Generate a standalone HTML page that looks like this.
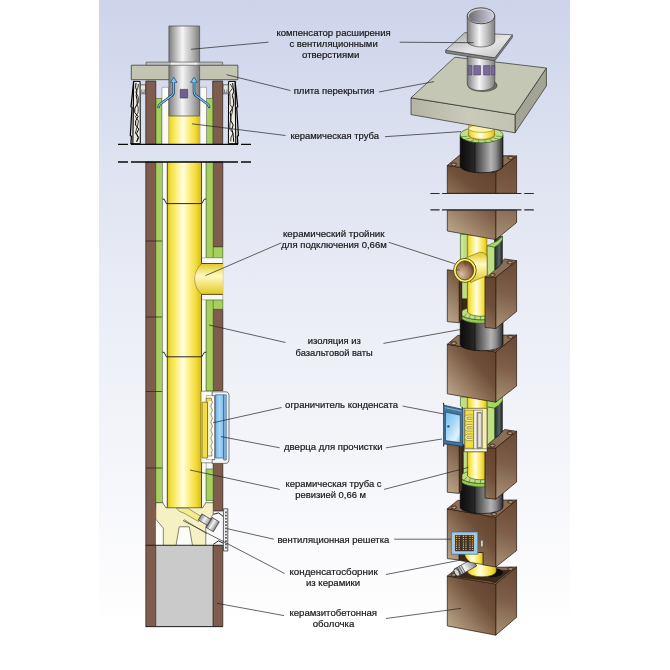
<!DOCTYPE html>
<html lang="ru"><head><meta charset="utf-8"><title>Керамический дымоход</title>
<style>
html,body{margin:0;padding:0;background:#fff;}
svg{display:block;will-change:transform;}
text{font-family:"Liberation Sans","DejaVu Sans",sans-serif;font-size:9.6px;fill:#141414;text-anchor:start;stroke:#141414;stroke-width:0.2px;}
.ld{stroke:#222;stroke-width:0.7;fill:none;}
.ol{stroke:#3a2a20;stroke-width:0.6;}
</style></head><body>
<svg width="670" height="670" viewBox="0 0 670 670">
<defs>
<linearGradient id="bgv" x1="0" y1="0" x2="0" y2="1">
<stop offset="0" stop-color="#cdd4ea"/><stop offset="0.286" stop-color="#e0e4f2"/><stop offset="0.476" stop-color="#eaedf6"/><stop offset="0.714" stop-color="#f4f5fa"/><stop offset="1" stop-color="#ffffff"/>
</linearGradient>
<linearGradient id="yel" x1="0" y1="0" x2="1" y2="0">
<stop offset="0" stop-color="#dcc228"/><stop offset="0.1" stop-color="#f2e03a"/><stop offset="0.3" stop-color="#fdf28e"/><stop offset="0.46" stop-color="#fffde2"/><stop offset="0.62" stop-color="#fdf28a"/><stop offset="0.85" stop-color="#f1da38"/><stop offset="1" stop-color="#d4b81a"/>
</linearGradient>
<linearGradient id="yelv" x1="0" y1="0" x2="0" y2="1">
<stop offset="0" stop-color="#e0c624"/><stop offset="0.4" stop-color="#fffbc0"/><stop offset="1" stop-color="#e3c820"/>
</linearGradient>
<linearGradient id="met" x1="0" y1="0" x2="1" y2="0">
<stop offset="0" stop-color="#7c7c7c"/><stop offset="0.16" stop-color="#ababab"/><stop offset="0.44" stop-color="#f5f5f5"/><stop offset="0.76" stop-color="#b6b6b6"/><stop offset="1" stop-color="#7e7e7e"/>
</linearGradient>
<linearGradient id="blu" x1="0" y1="0" x2="1" y2="0">
<stop offset="0" stop-color="#6fb4ea"/><stop offset="0.5" stop-color="#a9d6f7"/><stop offset="1" stop-color="#7dbdee"/>
</linearGradient>
<linearGradient id="blk" x1="0" y1="0" x2="1" y2="0">
<stop offset="0" stop-color="#0c0c0c"/><stop offset="0.2" stop-color="#1b1b1b"/><stop offset="0.34" stop-color="#2a2a2a"/><stop offset="0.35" stop-color="#3a3a3a"/><stop offset="0.52" stop-color="#707070"/><stop offset="0.72" stop-color="#b4b4b4"/><stop offset="0.84" stop-color="#8a8a8a"/><stop offset="1" stop-color="#2a2a2a"/>
</linearGradient>
<linearGradient id="bfr" x1="1" y1="0" x2="0" y2="1">
<stop offset="0" stop-color="#6a4833"/><stop offset="0.45" stop-color="#7d5a43"/><stop offset="1" stop-color="#a88d6e"/>
</linearGradient>
<linearGradient id="bsd" x1="0" y1="0" x2="0" y2="1">
<stop offset="0" stop-color="#75533e"/><stop offset="1" stop-color="#8e7058"/>
</linearGradient>
<linearGradient id="slabf" x1="0" y1="0" x2="1" y2="0">
<stop offset="0" stop-color="#b3b4a3"/><stop offset="0.55" stop-color="#c9cab9"/><stop offset="1" stop-color="#c2c3b2"/>
</linearGradient>
</defs>
<rect width="670" height="670" fill="#fff"/>
<rect x="99" y="0" width="471" height="630" fill="url(#bgv)"/>

<g id="left" stroke-linejoin="round">
<polygon points="133.6,81.4 131.0,106.8 132.0,107.4 130.3,135.6 131.4,136.2 130.9,143.7 133.4,143.7" fill="#dcdcdc" stroke="#000" stroke-width="1.2"/>
<polygon points="133.7,81.4 140.1,81.4 140.3,143.7 132.9,143.7" fill="#eeece0" stroke="#000" stroke-width="1"/>
<path d="M136.0 83 L135.6 87.2 L136.9 91.4 L136.2 95.6 L137.1 99.8 L137.2 104.0 L134.9 108.2 L134.7 112.4 L138.1 116.6 L135.7 120.8 L135.6 125.0 L138.8 129.2 L136.6 133.4 L138.1 137.6 L136.6 141.8" fill="none" stroke="#000" stroke-width="1"/>
<path d="M138.4 84 L137.9 88.1 L135.8 92.2 L137.9 96.3 L138.8 100.4 L137.4 104.5 L138.3 108.6 L138.0 112.7 L135.5 116.8 L138.4 120.9 L137.7 125.0 L136.5 129.1 L135.3 133.2 L138.8 137.3 L137.2 141.4" fill="none" stroke="#111" stroke-width="0.8"/>
<rect x="140.4" y="84.8" width="5.3" height="9" fill="#e4e4e4" stroke="#2a2a2a" stroke-width="0.6"/>
<path d="M141.8 89.5 v3.2 h2.4 v-3.2" fill="none" stroke="#333" stroke-width="0.6"/>
<polygon points="235.1,81.4 237.7,106.8 236.7,107.4 238.4,135.6 237.3,136.2 237.8,143.7 235.3,143.7" fill="#dcdcdc" stroke="#000" stroke-width="1.2"/>
<polygon points="235.0,81.4 228.6,81.4 228.4,143.7 235.8,143.7" fill="#eeece0" stroke="#000" stroke-width="1"/>
<path d="M232.7 83 L233.1 87.2 L233.7 91.4 L232.4 95.6 L233.4 99.8 L233.8 104.0 L232.4 108.2 L230.2 112.4 L230.7 116.6 L230.9 120.8 L233.2 125.0 L231.8 129.2 L232.9 133.4 L233.4 137.6 L233.7 141.8" fill="none" stroke="#000" stroke-width="1"/>
<path d="M230.3 84 L232.6 88.1 L229.6 92.2 L230.0 96.3 L230.1 100.4 L230.1 104.5 L232.7 108.6 L232.2 112.7 L230.9 116.8 L230.4 120.9 L229.9 125.0 L229.8 129.1 L233.1 133.2 L231.0 137.3 L230.7 141.4" fill="none" stroke="#111" stroke-width="0.8"/>
<rect x="223.0" y="84.8" width="5.3" height="9" fill="#e4e4e4" stroke="#2a2a2a" stroke-width="0.6"/>
<path d="M226.9 89.5 v3.2 h-2.4 v-3.2" fill="none" stroke="#333" stroke-width="0.6"/>
<rect x="145.8" y="81" width="10" height="63.3" fill="#7f5d4e" stroke="#2a1e18" stroke-width="0.7"/>
<rect x="212.7" y="81" width="10" height="63.3" fill="#7f5d4e" stroke="#2a1e18" stroke-width="0.7"/>
<rect x="156" y="98.5" width="6" height="45.8" fill="#a7cf5f" stroke="#3c6417" stroke-width="0.6"/>
<rect x="206.5" y="98.5" width="6.3" height="45.8" fill="#a7cf5f" stroke="#3c6417" stroke-width="0.6"/>
<rect x="162" y="87.3" width="6.6" height="57" fill="#fbfbf3" stroke="#555" stroke-width="0.4"/>
<rect x="200" y="87.3" width="6.5" height="57" fill="#fbfbf3" stroke="#555" stroke-width="0.4"/>
<rect x="168.6" y="110" width="31.4" height="34.3" fill="url(#yel)"/>
<rect x="131.3" y="65.2" width="106.6" height="14.5" fill="#c3c4b2" stroke="#3c3c38" stroke-width="0.8"/>
<rect x="168.9" y="26" width="30.7" height="90" fill="url(#met)" stroke="#4a4a4a" stroke-width="0.7"/>
<rect x="146.1" y="62.1" width="76.6" height="3.1" fill="#bdbdbd" stroke="#555" stroke-width="0.7"/>
<rect x="171" y="62.6" width="26.5" height="2.1" fill="#f2f2f2" opacity="0.9"/>
<rect x="180.2" y="89.4" width="7.5" height="8.6" fill="#6d5f8e" stroke="#3f345c" stroke-width="0.6"/>
<path d="M173.7 81 V91.5 Q173.7 94.5 171.5 95.8 L161.7 103 Q159.1 104.3 158.5 107" fill="none" stroke="#173f66" stroke-width="2.5" stroke-linecap="round"/>
<polygon points="170.3,82.4 173.7,77.2 177.1,82.4" fill="#7cc4ea" stroke="#1d4e7a" stroke-width="0.7"/>
<path d="M173.7 81 V91.5 Q173.7 94.5 171.5 95.8 L161.7 103 Q159.1 104.3 158.5 107" fill="none" stroke="#86cbee" stroke-width="1.1" stroke-linecap="round"/>
<path d="M194.0 81 V91.5 Q194.0 94.5 196.2 95.8 L206.0 103 Q208.6 104.3 209.2 107" fill="none" stroke="#173f66" stroke-width="2.5" stroke-linecap="round"/>
<polygon points="190.6,82.4 194.0,77.2 197.4,82.4" fill="#7cc4ea" stroke="#1d4e7a" stroke-width="0.7"/>
<path d="M194.0 81 V91.5 Q194.0 94.5 196.2 95.8 L206.0 103 Q208.6 104.3 209.2 107" fill="none" stroke="#86cbee" stroke-width="1.1" stroke-linecap="round"/>
<rect x="145.8" y="162" width="10" height="464.6" fill="#7f5d4e" stroke="#2a1e18" stroke-width="0.7"/>
<rect x="155.8" y="162" width="6.7" height="340.5" fill="#a7cf5f" stroke="#3c6417" stroke-width="0.6"/>
<line x1="145.8" y1="241.0" x2="162.5" y2="241.0" stroke="#2a1e18" stroke-width="0.7"/>
<line x1="145.8" y1="317.0" x2="162.5" y2="317.0" stroke="#2a1e18" stroke-width="0.7"/>
<line x1="145.8" y1="391.5" x2="162.5" y2="391.5" stroke="#2a1e18" stroke-width="0.7"/>
<line x1="145.8" y1="468.0" x2="162.5" y2="468.0" stroke="#2a1e18" stroke-width="0.7"/>
<line x1="145.8" y1="545.3" x2="155.8" y2="545.3" stroke="#2a1e18" stroke-width="0.7"/>
<rect x="162.5" y="162" width="43.7" height="346" fill="#fbfbf3" stroke="#555" stroke-width="0.4"/>
<rect x="213.2" y="162.0" width="9.6" height="85.0" fill="#7f5d4e" stroke="#2a1e18" stroke-width="0.7"/>
<rect x="213.2" y="309.3" width="9.6" height="81.3" fill="#7f5d4e" stroke="#2a1e18" stroke-width="0.7"/>
<rect x="213.2" y="463.2" width="9.6" height="47.8" fill="#7f5d4e" stroke="#2a1e18" stroke-width="0.7"/>
<polygon points="206.2,162.0 213.2,162.0 213.2,247.0 222.8,247.0 222.8,257.8 206.2,257.8" fill="#a7cf5f" stroke="#3c6417" stroke-width="0.6"/>
<line x1="213.2" y1="247" x2="213.2" y2="257.8" stroke="#3c6417" stroke-width="0.6"/>
<polygon points="206.2,299.8 222.8,299.8 222.8,309.3 213.2,309.3 213.2,391.0 206.2,391.0" fill="#a7cf5f" stroke="#3c6417" stroke-width="0.6"/>
<line x1="213.2" y1="299.8" x2="213.2" y2="309.3" stroke="#3c6417" stroke-width="0.6"/>
<rect x="206.2" y="469" width="7" height="31.5" fill="#a7cf5f" stroke="#3c6417" stroke-width="0.6"/>
<path d="M201.5 257.8 H222.8 V299.8 H201.5 Z" fill="#fbfbf3" stroke="#555" stroke-width="0.4"/>
<rect x="167.3" y="162" width="34.2" height="346.5" fill="url(#yel)"/>
<path d="M222.8 263.5 H200 Q193.6 270 193.6 279 Q193.6 288 200 294.4 H222.8 Z" fill="url(#yelv)"/>
<path d="M201.6 263.5 Q194.6 270 194.6 279 Q194.6 288 201.6 294.4" fill="none" stroke="#6b5a10" stroke-width="0.5"/>
<path d="M201.5 162 V263.5 H222.8 M222.8 294.4 H201.5 V508.3 H167.3 V162" fill="none" stroke="#2e2808" stroke-width="0.8"/>
<path d="M162.5 199.1 h1.6 L166.4 203.6 H201.8 L204.4 199.1 h1.8" fill="none" stroke="#111" stroke-width="0.9"/>
<path d="M162.5 352.3 h1.6 L166.4 356.8 H201.8 L204.4 352.3 h1.8" fill="none" stroke="#111" stroke-width="0.9"/>
<path d="M201 391.2 H213 V395.6 H206.4 V459.4 H213 V462.8 H201 Z" fill="#fbfbf3" stroke="#333" stroke-width="0.5"/>
<rect x="206.4" y="395.6" width="9" height="63.8" fill="#fbfbf8"/>
<path d="M212.2 391.8 H225.6 Q229 391.8 229 396 V459.2 Q229 463.4 225.6 463.4 H212.2 V459.6 H214.6 V395.6 H212.2 Z" fill="#f3f3f3" stroke="#2a2a2a" stroke-width="0.6"/>
<rect x="215.5" y="394.8" width="8.1" height="63.2" fill="url(#blu)" stroke="#1f4a70" stroke-width="0.6"/>
<rect x="223.6" y="394.8" width="2.7" height="65.2" fill="#7db6e4" stroke="#1f4a70" stroke-width="0.5"/>
<rect x="202.1" y="402.2" width="5.4" height="55.8" fill="#f2dc48" stroke="#3a3408" stroke-width="0.5"/>
<path d="M207.5 400.2 H211.6 q1.6 2 0 4 q-1.6 2 0 4 q1.6 2 0 4 q-1.6 2 0 4 q1.6 2 0 4 q-1.6 2 0 4 q1.6 2 0 4 q-1.6 2 0 4 q1.6 2 0 4 q-1.6 2 0 4 q1.6 2 0 4 q-1.6 2 0 4 q1.6 2 0 4 L212 456 H207.5 Z" fill="#f6f2cc" stroke="#3a3408" stroke-width="0.5"/>
<path d="M206.2 402.2 V398.2 H211.4 V400.2" fill="#f2dc48" stroke="#3a3408" stroke-width="0.5"/>
<rect x="155.8" y="508.6" width="57.4" height="37" fill="#fdfdf8"/>
<path d="M155.8 502.7 H162.7 L165.9 507.8 H202.7 L205.8 502.7 H213.2 V514.1 L205.8 526.8 V545.5 H192.5 L189.3 526.8 H179.2 L176 545.5 H163.3 V528.1 L155.8 519.2 Z" fill="#f5f1c2" stroke="#333" stroke-width="0.6"/>
<path d="M176.5 508.2 Q178.5 512 184 513.2 L198.5 521.5 L201.4 516.6 L192 510.8 Q189 508.5 187.5 508.2 Z" fill="#f6ec8a" stroke="#444" stroke-width="0.5"/>
<path d="M184 519.5 L207 534" fill="none" stroke="#333" stroke-width="0.5"/>
<g transform="rotate(31 200 517)"><rect x="200" y="513.4" width="12" height="7" fill="url(#met)" stroke="#222" stroke-width="0.6"/><rect x="210.6" y="511.2" width="8.4" height="11.6" fill="url(#met)" stroke="#222" stroke-width="0.6"/></g>
<path d="M213.2 514.3 L218.6 512.9 L223.6 516.7 M213.2 544.4 L218.6 540.8 L223.6 543.4" fill="none" stroke="#111" stroke-width="0.9"/>
<rect x="223.4" y="508.8" width="4.4" height="42.2" fill="#f1f1f1" stroke="#222" stroke-width="0.7"/>
<line x1="226" y1="511.5" x2="226" y2="549" stroke="#222" stroke-width="1.3" stroke-dasharray="1.7 1.5"/>
<rect x="155.8" y="545.3" width="57.4" height="81.3" fill="#cacaca" stroke="#333" stroke-width="0.6"/>
<rect x="213.2" y="545.3" width="9.6" height="81.3" fill="#7f5d4e" stroke="#2a1e18" stroke-width="0.7"/>
<line x1="145.6" y1="626.6" x2="223" y2="626.6" stroke="#222" stroke-width="0.9"/>
<line x1="145.8" y1="545.3" x2="222.8" y2="545.3" stroke="#222" stroke-width="0.7"/>
<path d="M118 144.3 H128 M131 144.3 H238 M241 144.3 H251" stroke="#0a0a0a" stroke-width="1.3" fill="none"/>
<path d="M118 162.0 H128 M131 162.0 H238 M241 162.0 H251" stroke="#0a0a0a" stroke-width="1.3" fill="none"/>
</g>
<g id="right" stroke-linejoin="round">
<linearGradient id="fg1" gradientUnits="userSpaceOnUse" x1="495.7" y1="584.0" x2="447.3" y2="625.9"><stop offset="0" stop-color="#64432d"/><stop offset="0.35" stop-color="#6f4f39"/><stop offset="0.68" stop-color="#967a61"/><stop offset="1" stop-color="#bba789"/></linearGradient>
<linearGradient id="sg2" gradientUnits="userSpaceOnUse" x1="516.6" y1="567.0" x2="495.7" y2="635.2"><stop offset="0" stop-color="#694834"/><stop offset="0.5" stop-color="#7f5f49"/><stop offset="1" stop-color="#a99376"/></linearGradient>
<polygon points="495.7,584.0 516.6,567.0 516.6,617.3 495.7,635.2" fill="url(#sg2)" stroke="#24160d" stroke-width="0.7"/>
<polygon points="447.3,576.0 495.7,584.0 495.7,635.2 447.3,625.9" fill="url(#fg1)" stroke="#24160d" stroke-width="0.7"/>
<polygon points="447.3,576.0 457.6,567.8 516.6,567.0 495.7,584.0" fill="#8a6e56" stroke="#24160d" stroke-width="0.7"/>
<ellipse cx="453.7" cy="574.8" rx="2.9" ry="1.55" fill="#7a5f49" stroke="#24160d" stroke-width="0.55"/>
<ellipse cx="453.9" cy="575.0" rx="1.7" ry="0.8" fill="#b09a82"/>
<ellipse cx="494.1" cy="581.0" rx="2.9" ry="1.55" fill="#7a5f49" stroke="#24160d" stroke-width="0.55"/>
<ellipse cx="494.3" cy="581.2" rx="1.7" ry="0.8" fill="#b09a82"/>
<ellipse cx="510.4" cy="568.8" rx="2.9" ry="1.55" fill="#7a5f49" stroke="#24160d" stroke-width="0.55"/>
<ellipse cx="510.6" cy="569.0" rx="1.7" ry="0.8" fill="#b09a82"/>
<path d="M454.6 576.4 L462.4 570.4 H510.6 L495.8 582.2 Z" fill="#3b2819" stroke="#24160d" stroke-width="0.5"/>
<ellipse cx="492" cy="572.6" rx="11" ry="4.6" fill="#0d0d0d"/>
<path d="M467.4 556 V571.2 A14.4 5.6 0 0 0 496.2 571.2 V556 Z" fill="url(#yel)" stroke="#3d360a" stroke-width="0.5"/>
<g transform="rotate(-29.5 456.8 572.4)"><rect x="456.8" y="568.2" width="20.5" height="8.4" fill="url(#met)" stroke="#222" stroke-width="0.6"/><ellipse cx="456.8" cy="572.4" rx="2.2" ry="4.2" fill="#d8d8d8" stroke="#222" stroke-width="0.7"/><path d="M459.6 568.2 v8.4 M461.8 568.2 v8.4 M464 568.2 v8.4" stroke="#333" stroke-width="0.6"/></g>
<linearGradient id="fg3" gradientUnits="userSpaceOnUse" x1="495.7" y1="517.2" x2="447.3" y2="558.6"><stop offset="0" stop-color="#64432d"/><stop offset="0.35" stop-color="#6f4f39"/><stop offset="0.68" stop-color="#967a61"/><stop offset="1" stop-color="#bba789"/></linearGradient>
<linearGradient id="sg4" gradientUnits="userSpaceOnUse" x1="516.6" y1="500.0" x2="495.7" y2="567.0"><stop offset="0" stop-color="#694834"/><stop offset="0.5" stop-color="#7f5f49"/><stop offset="1" stop-color="#a99376"/></linearGradient>
<polygon points="495.7,517.2 516.6,500.0 516.6,550.6 495.7,567.0" fill="url(#sg4)" stroke="#24160d" stroke-width="0.7"/>
<polygon points="459.0,552.0 483.1,552.0 483.1,564.4 459.0,560.4" fill="#3b2819" stroke="#24160d" stroke-width="0.5"/>
<path d="M464.1 552.4 H483.1 V564.4 L470.5 562.3 Q465 558.5 464.1 552.4 Z" fill="url(#yel)" stroke="#3d360a" stroke-width="0.4"/>
<polygon points="447.3,508.8 495.7,517.2 495.7,567.0 483.1,564.8 483.1,552.6 459.0,552.6 459.0,560.0 447.3,558.6" fill="url(#fg3)" stroke="#24160d" stroke-width="0.7"/>
<polygon points="447.3,508.8 457.6,500.4 516.6,500.0 495.7,517.2" fill="#8a6e56" stroke="#24160d" stroke-width="0.7"/>
<ellipse cx="453.9" cy="507.4" rx="2.9" ry="1.55" fill="#7a5f49" stroke="#24160d" stroke-width="0.55"/>
<ellipse cx="454.1" cy="507.6" rx="1.7" ry="0.8" fill="#b09a82"/>
<ellipse cx="493.9" cy="514.0" rx="2.9" ry="1.55" fill="#7a5f49" stroke="#24160d" stroke-width="0.55"/>
<ellipse cx="494.1" cy="514.2" rx="1.7" ry="0.8" fill="#b09a82"/>
<ellipse cx="510.4" cy="501.8" rx="2.9" ry="1.55" fill="#7a5f49" stroke="#24160d" stroke-width="0.55"/>
<ellipse cx="510.6" cy="502.1" rx="1.7" ry="0.8" fill="#b09a82"/>
<rect x="451.4" y="532" width="26.4" height="22.3" fill="#9ccbe9" stroke="#2c5f86" stroke-width="0.6"/>
<rect x="454.6" y="534.6" width="19.7" height="17.1" fill="#3e3128" stroke="#e4eef5" stroke-width="0.6"/>
<line x1="456.6" y1="535.8" x2="456.6" y2="550.8" stroke="#e0b860" stroke-width="1.2" stroke-dasharray="1.1 1.1"/>
<line x1="459.2" y1="535.8" x2="459.2" y2="550.8" stroke="#e0b860" stroke-width="1.2" stroke-dasharray="1.1 1.1"/>
<line x1="463.4" y1="535.8" x2="463.4" y2="550.8" stroke="#e0b860" stroke-width="1.2" stroke-dasharray="1.1 1.1"/>
<line x1="466.0" y1="535.8" x2="466.0" y2="550.8" stroke="#e0b860" stroke-width="1.2" stroke-dasharray="1.1 1.1"/>
<line x1="470.0" y1="535.8" x2="470.0" y2="550.8" stroke="#e0b860" stroke-width="1.2" stroke-dasharray="1.1 1.1"/>
<line x1="472.4" y1="535.8" x2="472.4" y2="550.8" stroke="#e0b860" stroke-width="1.2" stroke-dasharray="1.1 1.1"/>
<rect x="480.9" y="540.3" width="2" height="6.4" fill="#f2f2f2" stroke="#333" stroke-width="0.4"/>
<polygon points="459.2,444.0 485.2,447.4 485.2,496.0 459.2,491.0" fill="#3b2819" stroke="#24160d" stroke-width="0.5"/>
<path d="M460.2 481.0 V506.8 A21.4 6.8 0 0 0 503.0 506.8 V481.0 Z" fill="url(#blk)" stroke="#000" stroke-width="0.6"/>
<line x1="475.0" y1="481.0" x2="475.0" y2="513.3" stroke="#000" stroke-width="0.5"/>
<rect x="463.5" y="451.5" width="3.9" height="25" fill="#c1de87" stroke="#2f5a14" stroke-width="0.5"/>
<rect x="467.4" y="450" width="17.6" height="30" fill="url(#yel)" stroke="#5d5212" stroke-width="0.4"/>
<path d="M460.2 476.4 A21.4 7 0 0 0 485.2 483.3 V486.8 A21.4 7 0 0 1 460.2 480.0 Z" fill="#9cc658" stroke="#2f5a14" stroke-width="0.6"/>
<path d="M460.2 476.4 A21.4 7 0 0 0 485.2 483.3 V479.7 A14.2 4.7 0 0 1 467.4 475.4 V471.8 Q462.5 473.0 460.2 476.4 Z" fill="#c1de87" stroke="#2f5a14" stroke-width="0.6"/>
<line x1="463.4" y1="481.0" x2="466.6" y2="477.3" stroke="#2f5a14" stroke-width="0.5"/>
<line x1="468.6" y1="482.6" x2="470.4" y2="478.6" stroke="#2f5a14" stroke-width="0.5"/>
<line x1="474.6" y1="483.4" x2="475.4" y2="479.4" stroke="#2f5a14" stroke-width="0.5"/>
<line x1="480.4" y1="483.6" x2="480.6" y2="479.8" stroke="#2f5a14" stroke-width="0.5"/>
<linearGradient id="fg5" gradientUnits="userSpaceOnUse" x1="495.7" y1="440.6" x2="447.3" y2="492.6"><stop offset="0" stop-color="#64432d"/><stop offset="0.35" stop-color="#6f4f39"/><stop offset="0.68" stop-color="#967a61"/><stop offset="1" stop-color="#bba789"/></linearGradient>
<linearGradient id="fg6" gradientUnits="userSpaceOnUse" x1="495.7" y1="447.6" x2="447.3" y2="498.6"><stop offset="0" stop-color="#64432d"/><stop offset="0.35" stop-color="#6f4f39"/><stop offset="0.68" stop-color="#967a61"/><stop offset="1" stop-color="#bba789"/></linearGradient>
<linearGradient id="sg7" gradientUnits="userSpaceOnUse" x1="516.6" y1="430.6" x2="495.7" y2="498.6"><stop offset="0" stop-color="#694834"/><stop offset="0.5" stop-color="#7f5f49"/><stop offset="1" stop-color="#a99376"/></linearGradient>
<polygon points="459.2,441.6 462.0,440.4 462.0,490.1 459.2,493.2" fill="#4a3222" stroke="#24160d" stroke-width="0.5"/>
<polygon points="447.3,440.4 459.2,441.8 459.2,493.4 447.3,492.2" fill="url(#fg5)" stroke="#24160d" stroke-width="0.7"/>
<polygon points="495.7,448.0 516.6,431.3 516.6,482.0 495.7,499.2" fill="url(#sg7)" stroke="#24160d" stroke-width="0.7"/>
<polygon points="485.0,447.6 495.7,448.0 495.7,499.2 485.0,498.0" fill="url(#fg6)" stroke="#24160d" stroke-width="0.7"/>
<polygon points="485.0,447.6 504.5,429.6 516.6,431.3 495.7,448.0" fill="#8a6e56" stroke="#24160d" stroke-width="0.7"/>
<ellipse cx="492.4" cy="445.4" rx="2.9" ry="1.55" fill="#7a5f49" stroke="#24160d" stroke-width="0.55"/>
<ellipse cx="492.6" cy="445.6" rx="1.7" ry="0.8" fill="#b09a82"/>
<ellipse cx="509.8" cy="433.0" rx="2.9" ry="1.55" fill="#7a5f49" stroke="#24160d" stroke-width="0.55"/>
<ellipse cx="510.0" cy="433.2" rx="1.7" ry="0.8" fill="#b09a82"/>
<linearGradient id="shell2" x1="0" y1="0" x2="1" y2="0"><stop offset="0" stop-color="#1c2626"/><stop offset="0.6" stop-color="#566462"/><stop offset="1" stop-color="#1e2424"/></linearGradient>
<path d="M494.5 402 V438.6 Q499.5 436 502.4 431 V400 Z" fill="url(#shell2)" stroke="#000" stroke-width="0.5"/>
<path d="M487.2 406.8 L494.5 408 V438.6 L487.2 444.6 Z" fill="#c1de87" stroke="#2f5a14" stroke-width="0.6"/>
<path d="M460.4 397 V406 Q462 408.6 467.4 409.6 V397 Z" fill="#c1de87" stroke="#2f5a14" stroke-width="0.6"/>
<path d="M467.4 397 V410.4 H487 V397 Z" fill="url(#yel)" stroke="#5d5212" stroke-width="0.4"/>
<path d="M487.2 397 V406.8 L494.5 408 Q499.6 405.6 502.4 400.8 V394 Z" fill="#a4d862" stroke="#2f5a14" stroke-width="0.6"/>
<rect x="464.3" y="408.3" width="22.7" height="43.4" fill="#f3eeb4" stroke="#3a3408" stroke-width="0.6"/>
<rect x="465" y="410.2" width="8.7" height="38" fill="#f3df3e" stroke="#4a4210" stroke-width="0.4"/>
<rect x="473.7" y="410.2" width="8.7" height="40" fill="#f6f4e8" stroke="#4a4210" stroke-width="0.5"/>
<rect x="476.9" y="412.3" width="4.4" height="36" fill="#a3968a" stroke="#333" stroke-width="0.4"/>
<rect x="478.3" y="413.6" width="2.6" height="33.4" fill="#e9e5d8" stroke="none"/>
<path d="M472.6 416.0 h-5.2 q-1.6 0 -1.6 2.2 q0 2.2 1.6 2.2 h5.2" fill="none" stroke="#fff6a8" stroke-width="2.1"/>
<path d="M472.6 415.0 h-5.2 q-2.6 0 -2.6 3.2 q0 3.2 2.6 3.2 h5.2 M472.6 417.0 h-5 q-0.8 0 -0.8 1.2 q0 1.2 0.8 1.2 h5" fill="none" stroke="#4a4210" stroke-width="0.45"/>
<path d="M472.6 425.6 h-5.2 q-1.6 0 -1.6 2.2 q0 2.2 1.6 2.2 h5.2" fill="none" stroke="#fff6a8" stroke-width="2.1"/>
<path d="M472.6 424.6 h-5.2 q-2.6 0 -2.6 3.2 q0 3.2 2.6 3.2 h5.2 M472.6 426.6 h-5 q-0.8 0 -0.8 1.2 q0 1.2 0.8 1.2 h5" fill="none" stroke="#4a4210" stroke-width="0.45"/>
<path d="M472.6 435.2 h-5.2 q-1.6 0 -1.6 2.2 q0 2.2 1.6 2.2 h5.2" fill="none" stroke="#fff6a8" stroke-width="2.1"/>
<path d="M472.6 434.2 h-5.2 q-2.6 0 -2.6 3.2 q0 3.2 2.6 3.2 h5.2 M472.6 436.2 h-5 q-0.8 0 -0.8 1.2 q0 1.2 0.8 1.2 h5" fill="none" stroke="#4a4210" stroke-width="0.45"/>
<rect x="464.3" y="448.8" width="22.7" height="2.9" fill="#f8f8f0" stroke="#3a3408" stroke-width="0.5"/>
<polygon points="443.6,405.2 462.9,409.4 462.9,446.4 443.6,443.8" fill="#44749c" stroke="#173650" stroke-width="0.8"/>
<linearGradient id="door" x1="0.1" y1="0" x2="0.9" y2="1"><stop offset="0" stop-color="#74c0f0"/><stop offset="0.45" stop-color="#a9d9f6"/><stop offset="0.8" stop-color="#e4f3fc"/><stop offset="1" stop-color="#9dd0f2"/></linearGradient>
<polygon points="445.5,412.0 460.2,415.2 460.2,442.6 445.5,440.6" fill="url(#door)" stroke="#173650" stroke-width="0.6"/>
<path d="M445 407.6 L461.4 411.2" stroke="#9cc4e2" stroke-width="0.8" fill="none"/>
<circle cx="448.4" cy="426.4" r="1.2" fill="#2a4f74"/>
<path d="M444 405.4 l-0.7 -2.6 M444 443.6 l-0.5 2.8 M462.6 409.6 l-0.3 -2.2 M462.6 446.2 l0.2 2.2" stroke="#173650" stroke-width="1.2"/>
<linearGradient id="fg8" gradientUnits="userSpaceOnUse" x1="495.7" y1="352.0" x2="447.3" y2="393.8"><stop offset="0" stop-color="#64432d"/><stop offset="0.35" stop-color="#6f4f39"/><stop offset="0.68" stop-color="#967a61"/><stop offset="1" stop-color="#bba789"/></linearGradient>
<linearGradient id="sg9" gradientUnits="userSpaceOnUse" x1="516.6" y1="335.0" x2="495.7" y2="402.2"><stop offset="0" stop-color="#694834"/><stop offset="0.5" stop-color="#7f5f49"/><stop offset="1" stop-color="#a99376"/></linearGradient>
<polygon points="495.7,352.0 516.6,335.0 516.6,386.0 495.7,402.2" fill="url(#sg9)" stroke="#24160d" stroke-width="0.7"/>
<polygon points="447.3,344.3 495.7,352.0 495.7,402.2 447.3,393.8" fill="url(#fg8)" stroke="#24160d" stroke-width="0.7"/>
<polygon points="447.3,344.3 457.6,335.4 516.6,335.0 495.7,352.0" fill="#8a6e56" stroke="#24160d" stroke-width="0.7"/>
<ellipse cx="453.7" cy="343.1" rx="2.9" ry="1.55" fill="#7a5f49" stroke="#24160d" stroke-width="0.55"/>
<ellipse cx="453.9" cy="343.4" rx="1.7" ry="0.8" fill="#b09a82"/>
<ellipse cx="494.1" cy="349.0" rx="2.9" ry="1.55" fill="#7a5f49" stroke="#24160d" stroke-width="0.55"/>
<ellipse cx="494.3" cy="349.2" rx="1.7" ry="0.8" fill="#b09a82"/>
<ellipse cx="510.4" cy="336.8" rx="2.9" ry="1.55" fill="#7a5f49" stroke="#24160d" stroke-width="0.55"/>
<ellipse cx="510.6" cy="337.1" rx="1.7" ry="0.8" fill="#b09a82"/>
<polygon points="459.2,272.0 485.2,277.4 485.2,326.0 459.2,321.0" fill="#3b2819" stroke="#24160d" stroke-width="0.5"/>
<path d="M460.2 315.0 V344.0 A21.4 6.8 0 0 0 503.0 344.0 V315.0 Z" fill="url(#blk)" stroke="#000" stroke-width="0.6"/>
<line x1="475.0" y1="315.0" x2="475.0" y2="350.5" stroke="#000" stroke-width="0.5"/>
<rect x="460.4" y="234.4" width="7" height="64.3" fill="#c1de87" stroke="#2f5a14" stroke-width="0.6"/>
<line x1="462.4" y1="236" x2="462.4" y2="297" stroke="#dff0b8" stroke-width="0.7"/>
<rect x="467.4" y="235" width="19.6" height="81.5" fill="url(#yel)" stroke="#5d5212" stroke-width="0.4"/>
<path d="M460.2 312.8 A21.4 7 0 0 0 485.2 319.7 V323.2 A21.4 7 0 0 1 460.2 316.4 Z" fill="#9cc658" stroke="#2f5a14" stroke-width="0.6"/>
<path d="M460.2 312.8 A21.4 7 0 0 0 485.2 319.7 V316.1 A14.2 4.7 0 0 1 467.4 311.8 V308.2 Q462.5 309.4 460.2 312.8 Z" fill="#c1de87" stroke="#2f5a14" stroke-width="0.6"/>
<line x1="463.4" y1="317.4" x2="466.6" y2="313.7" stroke="#2f5a14" stroke-width="0.5"/>
<line x1="468.6" y1="319.0" x2="470.4" y2="315.0" stroke="#2f5a14" stroke-width="0.5"/>
<line x1="474.6" y1="319.8" x2="475.4" y2="315.8" stroke="#2f5a14" stroke-width="0.5"/>
<line x1="480.4" y1="320.0" x2="480.6" y2="316.2" stroke="#2f5a14" stroke-width="0.5"/>
<linearGradient id="fg10" gradientUnits="userSpaceOnUse" x1="495.7" y1="270.0" x2="447.3" y2="322.0"><stop offset="0" stop-color="#64432d"/><stop offset="0.35" stop-color="#6f4f39"/><stop offset="0.68" stop-color="#967a61"/><stop offset="1" stop-color="#bba789"/></linearGradient>
<linearGradient id="fg11" gradientUnits="userSpaceOnUse" x1="495.7" y1="277.0" x2="447.3" y2="328.0"><stop offset="0" stop-color="#64432d"/><stop offset="0.35" stop-color="#6f4f39"/><stop offset="0.68" stop-color="#967a61"/><stop offset="1" stop-color="#bba789"/></linearGradient>
<linearGradient id="sg12" gradientUnits="userSpaceOnUse" x1="516.6" y1="260.0" x2="495.7" y2="328.0"><stop offset="0" stop-color="#694834"/><stop offset="0.5" stop-color="#7f5f49"/><stop offset="1" stop-color="#a99376"/></linearGradient>
<polygon points="459.2,271.0 462.0,269.8 462.0,319.5 459.2,322.6" fill="#4a3222" stroke="#24160d" stroke-width="0.5"/>
<polygon points="447.3,269.8 459.2,271.2 459.2,322.8 447.3,321.6" fill="url(#fg10)" stroke="#24160d" stroke-width="0.7"/>
<polygon points="495.7,277.4 516.6,260.7 516.6,311.4 495.7,328.6" fill="url(#sg12)" stroke="#24160d" stroke-width="0.7"/>
<polygon points="485.0,277.0 495.7,277.4 495.7,328.6 485.0,327.4" fill="url(#fg11)" stroke="#24160d" stroke-width="0.7"/>
<polygon points="485.0,277.0 504.5,259.0 516.6,260.7 495.7,277.4" fill="#8a6e56" stroke="#24160d" stroke-width="0.7"/>
<ellipse cx="492.4" cy="274.8" rx="2.9" ry="1.55" fill="#7a5f49" stroke="#24160d" stroke-width="0.55"/>
<ellipse cx="492.6" cy="275.1" rx="1.7" ry="0.8" fill="#b09a82"/>
<ellipse cx="509.8" cy="262.4" rx="2.9" ry="1.55" fill="#7a5f49" stroke="#24160d" stroke-width="0.55"/>
<ellipse cx="510.0" cy="262.6" rx="1.7" ry="0.8" fill="#b09a82"/>
<linearGradient id="shell" x1="0" y1="0" x2="1" y2="0"><stop offset="0" stop-color="#1c2626"/><stop offset="0.6" stop-color="#566462"/><stop offset="1" stop-color="#1e2424"/></linearGradient>
<path d="M494.5 238 V270.2 Q499.5 267.5 502.4 262.4 V236 Z" fill="url(#shell)" stroke="#000" stroke-width="0.5"/>
<path d="M487.2 245.6 L494.5 247.2 V270.2 L487.2 276.4 Z" fill="#c1de87" stroke="#2f5a14" stroke-width="0.6"/>
<path d="M487.2 245.6 L494.5 247.2 Q499.6 244.6 502.4 239.8 L502.2 236.4 Q498 241.4 493.4 242.8 Z" fill="#a4d862" stroke="#2f5a14" stroke-width="0.5"/>
<path d="M464.9 258.4 L479.6 252.2 Q485.6 252.2 487 257 V275.4 L470.6 282.6 Z" fill="url(#yelv)" stroke="#5d5212" stroke-width="0.5"/>
<ellipse cx="464.9" cy="270.4" rx="11.3" ry="12" fill="#f3e040" stroke="#3d3406" stroke-width="0.8"/>
<ellipse cx="464.9" cy="270.4" rx="10.2" ry="10.9" fill="none" stroke="#fff7a0" stroke-width="0.8"/>
<radialGradient id="teein" cx="0.3" cy="0.7" r="0.8"><stop offset="0" stop-color="#d9c2a4"/><stop offset="0.6" stop-color="#a07858"/><stop offset="1" stop-color="#5a3a24"/></radialGradient>
<ellipse cx="464.9" cy="270.4" rx="8.7" ry="9.5" fill="url(#teein)" stroke="#3d3406" stroke-width="0.7"/>
<path d="M464.9 261.2 l0.6 4.4 M456.4 269.6 l3.4 0.4" stroke="#3d3406" stroke-width="0.6"/>
<linearGradient id="fg13" gradientUnits="userSpaceOnUse" x1="495.7" y1="172.2" x2="447.3" y2="231.0"><stop offset="0" stop-color="#64432d"/><stop offset="0.35" stop-color="#6f4f39"/><stop offset="0.68" stop-color="#967a61"/><stop offset="1" stop-color="#bba789"/></linearGradient>
<linearGradient id="sg14" gradientUnits="userSpaceOnUse" x1="516.6" y1="155.9" x2="495.7" y2="239.5"><stop offset="0" stop-color="#694834"/><stop offset="0.5" stop-color="#7f5f49"/><stop offset="1" stop-color="#a99376"/></linearGradient>
<polygon points="495.7,210.2 516.6,210.2 516.6,222.6 495.7,239.6" fill="url(#sg14)" stroke="#24160d" stroke-width="0.7"/>
<polygon points="447.3,210.2 495.7,210.2 495.7,239.6 447.3,231.0" fill="url(#fg13)" stroke="#24160d" stroke-width="0.7"/>
<polygon points="495.7,172.2 516.6,155.9 516.6,193.3 495.7,193.3" fill="url(#sg14)" stroke="#24160d" stroke-width="0.7"/>
<polygon points="447.3,165.5 495.7,172.2 495.7,193.3 447.3,193.3" fill="url(#fg13)" stroke="#24160d" stroke-width="0.7"/>
<polygon points="447.3,165.5 459.7,155.1 516.6,155.9 495.7,172.2" fill="#8a6e56" stroke="#24160d" stroke-width="0.7"/>
<ellipse cx="453.7" cy="164.3" rx="2.9" ry="1.55" fill="#7a5f49" stroke="#24160d" stroke-width="0.55"/>
<ellipse cx="453.9" cy="164.6" rx="1.7" ry="0.8" fill="#b09a82"/>
<ellipse cx="494.1" cy="169.2" rx="2.9" ry="1.55" fill="#7a5f49" stroke="#24160d" stroke-width="0.55"/>
<ellipse cx="494.3" cy="169.4" rx="1.7" ry="0.8" fill="#b09a82"/>
<ellipse cx="510.4" cy="157.7" rx="2.9" ry="1.55" fill="#7a5f49" stroke="#24160d" stroke-width="0.55"/>
<ellipse cx="510.6" cy="157.9" rx="1.7" ry="0.8" fill="#b09a82"/>
<path d="M430.4 193.5 H439.6 M442 193.5 H521.4 M524.2 193.5 H533.8" stroke="#2a2a2a" stroke-width="1.2" fill="none"/>
<path d="M430.4 209.9 H439.6 M442 209.9 H521.4 M524.2 209.9 H533.8" stroke="#2a2a2a" stroke-width="1.2" fill="none"/>
<path d="M460.2 135.5 V166.0 A21.4 6.8 0 0 0 503.0 166.0 V135.5 Z" fill="url(#blk)" stroke="#000" stroke-width="0.6"/>
<line x1="475.0" y1="135.5" x2="475.0" y2="172.5" stroke="#000" stroke-width="0.5"/>
<ellipse cx="481.6" cy="134.9" rx="21.4" ry="7.9" fill="#c1de87" stroke="#2f5a14" stroke-width="0.7"/>
<ellipse cx="481.6" cy="134.9" rx="13.4" ry="5.2" fill="#e6cf2c" stroke="#5d5212" stroke-width="0.5"/>
<line x1="495.8" y1="136.1" x2="502.5" y2="136.5" stroke="#2f5a14" stroke-width="0.5"/>
<line x1="493.6" y1="138.0" x2="499.3" y2="139.3" stroke="#2f5a14" stroke-width="0.5"/>
<line x1="489.7" y1="139.6" x2="493.6" y2="141.4" stroke="#2f5a14" stroke-width="0.5"/>
<line x1="484.6" y1="140.4" x2="486.0" y2="142.6" stroke="#2f5a14" stroke-width="0.5"/>
<line x1="479.1" y1="140.4" x2="477.9" y2="142.7" stroke="#2f5a14" stroke-width="0.5"/>
<line x1="473.9" y1="139.7" x2="470.3" y2="141.6" stroke="#2f5a14" stroke-width="0.5"/>
<line x1="469.9" y1="138.2" x2="464.3" y2="139.5" stroke="#2f5a14" stroke-width="0.5"/>
<line x1="467.6" y1="136.3" x2="460.8" y2="136.8" stroke="#2f5a14" stroke-width="0.5"/>
<path d="M468.6 118 V134.6 A13 4.6 0 0 0 494.6 134.6 V118 Z" fill="url(#yel)" stroke="#5d5212" stroke-width="0.4"/>
<ellipse cx="481.6" cy="128.6" rx="13" ry="3.8" fill="#fbf3a4" stroke="#5d5212" stroke-width="0.4"/>
<polygon points="515.0,114.6 546.4,68.0 546.4,86.0 515.0,132.8" fill="#a3a493" stroke="#2c2c28" stroke-width="0.7"/>
<polygon points="411.0,97.8 515.0,114.6 515.0,132.8 411.0,114.6" fill="url(#slabf)" stroke="#2c2c28" stroke-width="0.7"/>
<polygon points="411.0,97.8 454.8,57.2 546.4,68.0 515.0,114.6" fill="#c5c7b5" stroke="#2c2c28" stroke-width="0.7"/>
<ellipse cx="482.6" cy="85.4" rx="14.6" ry="6.2" fill="#6f7066" stroke="#333" stroke-width="0.5"/>
<path d="M467.2 52 V84 A13.8 6.6 0 0 0 494.8 84 V52 Z" fill="url(#met)" stroke="#3a3a3a" stroke-width="0.6"/>
<rect x="468.3" y="65.6" width="3.6" height="9.4" fill="#7a6b9b" stroke="#3c3260" stroke-width="0.5"/>
<rect x="473.8" y="65.6" width="6.8" height="9.4" fill="#7a6b9b" stroke="#3c3260" stroke-width="0.5"/>
<rect x="483.6" y="65.6" width="6.4" height="9.4" fill="#7a6b9b" stroke="#3c3260" stroke-width="0.5"/>
<rect x="491.6" y="65.6" width="3.2" height="9.4" fill="#7a6b9b" stroke="#3c3260" stroke-width="0.5"/>
<polygon points="445.7,50.2 494.8,57.8 512.3,34.8 512.3,37.6 494.8,60.8 445.7,53.0" fill="#858585" stroke="#333" stroke-width="0.6"/>
<linearGradient id="flg" x1="0" y1="0" x2="1" y2="1"><stop offset="0" stop-color="#a2a2a2"/><stop offset="0.55" stop-color="#e6e6e6"/><stop offset="1" stop-color="#bcbcbc"/></linearGradient>
<polygon points="445.7,50.2 464.8,32.6 512.3,34.8 494.8,57.8" fill="url(#flg)" stroke="#333" stroke-width="0.6"/>
<path d="M467.2 15.6 V41 A13.8 6 0 0 0 494.8 41 V15.6 Z" fill="url(#met)" stroke="#3a3a3a" stroke-width="0.6"/>
<ellipse cx="481" cy="15.8" rx="13.8" ry="8" fill="#d2d2d6" stroke="#2a2a2a" stroke-width="0.8"/>
<linearGradient id="pin" x1="0" y1="0" x2="1" y2="0"><stop offset="0" stop-color="#6c6c72"/><stop offset="0.5" stop-color="#a09faa"/><stop offset="1" stop-color="#cfcde0"/></linearGradient>
<ellipse cx="481" cy="16.4" rx="12.2" ry="6.6" fill="url(#pin)"/>
</g>
<g class="ld">
<line x1="191.0" y1="49.3" x2="268.4" y2="42.2"/>
<line x1="399.7" y1="42.2" x2="473.6" y2="42.7"/>
<line x1="226.5" y1="74.7" x2="290.4" y2="90.5"/>
<line x1="379.0" y1="92.0" x2="434.0" y2="81.6"/>
<line x1="192.0" y1="123.8" x2="285.5" y2="135.5"/>
<line x1="384.9" y1="136.7" x2="461.0" y2="131.6"/>
<line x1="205.5" y1="275.6" x2="281.3" y2="242.9"/>
<line x1="388.7" y1="242.3" x2="454.6" y2="263.7"/>
<line x1="209.0" y1="325.0" x2="285.5" y2="342.5"/>
<line x1="383.5" y1="343.4" x2="460.0" y2="329.6"/>
<line x1="213.0" y1="422.8" x2="281.6" y2="407.5"/>
<line x1="402.7" y1="406.1" x2="443.9" y2="414.0"/>
<line x1="221.0" y1="436.6" x2="279.7" y2="447.8"/>
<line x1="386.0" y1="447.8" x2="442.0" y2="439.0"/>
<line x1="190.0" y1="470.0" x2="279.7" y2="489.4"/>
<line x1="384.1" y1="489.4" x2="468.4" y2="467.4"/>
<line x1="227.2" y1="528.7" x2="273.9" y2="539.2"/>
<line x1="394.2" y1="539.2" x2="451.0" y2="539.2"/>
<line x1="183.0" y1="520.5" x2="284.6" y2="573.5"/>
<line x1="386.0" y1="574.5" x2="459.0" y2="560.4"/>
<line x1="217.0" y1="603.3" x2="284.0" y2="615.6"/>
<line x1="386.0" y1="618.5" x2="461.0" y2="608.4"/>
</g>
<g opacity="0.985">
<text x="276.4" y="35.7" textLength="114.3" lengthAdjust="spacingAndGlyphs">компенсатор расширения</text>
<text x="289.4" y="47.3" textLength="88.3" lengthAdjust="spacingAndGlyphs">с вентиляционными</text>
<text x="302.0" y="58.4" textLength="57.3" lengthAdjust="spacingAndGlyphs">отверстиями</text>
<text x="293.7" y="93.8" textLength="80.7" lengthAdjust="spacingAndGlyphs">плита перекрытия</text>
<text x="290.4" y="138.6" textLength="88.6" lengthAdjust="spacingAndGlyphs">керамическая труба</text>
<text x="283.0" y="237.1" textLength="101.5" lengthAdjust="spacingAndGlyphs">керамический тройник</text>
<text x="281.3" y="248.1" textLength="105.5" lengthAdjust="spacingAndGlyphs">для подключения 0,66м</text>
<text x="307.8" y="344.0" textLength="53.0" lengthAdjust="spacingAndGlyphs">изоляция из</text>
<text x="295.6" y="355.5" textLength="77.2" lengthAdjust="spacingAndGlyphs">базальтовой ваты</text>
<text x="285.1" y="408.0" textLength="112.9" lengthAdjust="spacingAndGlyphs">ограничитель конденсата</text>
<text x="284.0" y="449.8" textLength="98.5" lengthAdjust="spacingAndGlyphs">дверца для прочистки</text>
<text x="285.5" y="487.1" textLength="96.1" lengthAdjust="spacingAndGlyphs">керамическая труба с</text>
<text x="295.2" y="498.1" textLength="70.8" lengthAdjust="spacingAndGlyphs">ревизией 0,66 м</text>
<text x="277.4" y="542.8" textLength="111.9" lengthAdjust="spacingAndGlyphs">вентиляционная решетка</text>
<text x="289.4" y="575.0" textLength="88.3" lengthAdjust="spacingAndGlyphs">конденсатосборник</text>
<text x="305.9" y="586.1" textLength="54.3" lengthAdjust="spacingAndGlyphs">из керамики</text>
<text x="289.4" y="616.2" textLength="87.7" lengthAdjust="spacingAndGlyphs">керамзитобетонная</text>
<text x="312.7" y="627.3" textLength="41.7" lengthAdjust="spacingAndGlyphs">оболочка</text>
</g>
</svg></body></html>
